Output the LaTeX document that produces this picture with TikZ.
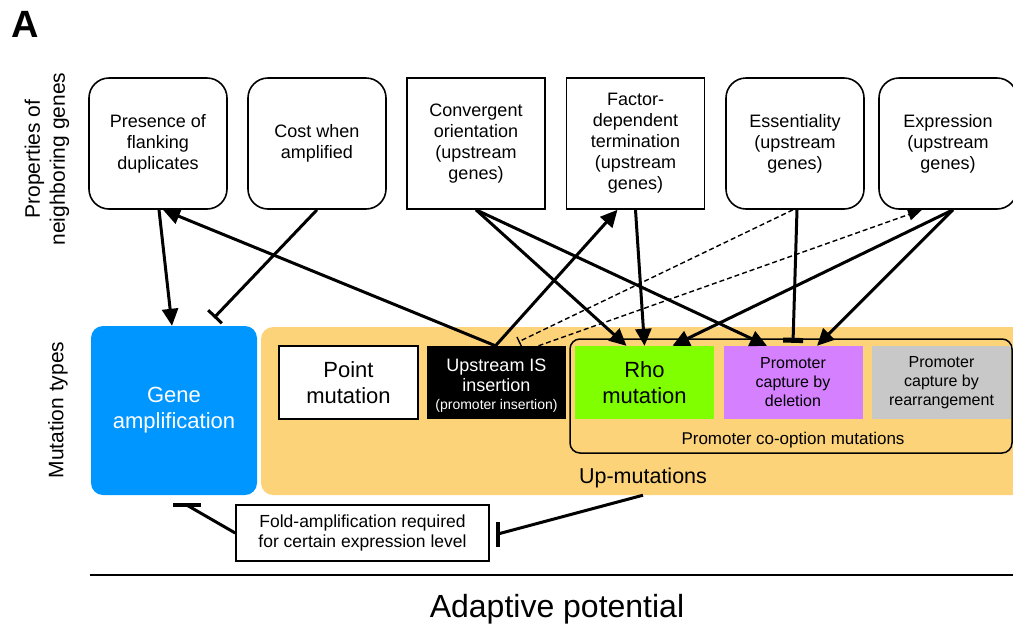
\documentclass[tikz,border=0pt]{standalone}
\usepackage{fontspec}
\setmainfont{Liberation Sans}
\usetikzlibrary{arrows.meta,calc}
\definecolor{ampblue}{RGB}{0,150,255}
\definecolor{upor}{RGB}{253,211,122}
\definecolor{rhogreen}{RGB}{128,255,0}
\definecolor{delviolet}{RGB}{213,128,255}
\definecolor{reargray}{RGB}{200,200,200}
\begin{document}
\begin{tikzpicture}[x=1pt,y=-1pt,
  prop/.style={draw,line width=1.6pt,minimum width=138pt,minimum height=131pt,inner sep=0pt,align=center,font=\fontsize{18}{21}\selectfont},
  rprop/.style={prop,rounded corners=20pt},
  arr/.style={line width=3pt,-{Triangle[length=17pt,width=16pt]}},
  inh/.style={line width=3pt,-{Bar[width=19pt]}},
  dasharr/.style={line width=1.4pt,dash pattern=on 5pt off 3pt,-{Triangle[length=14pt,width=12pt]}},
  dashinh/.style={line width=1.4pt,dash pattern=on 5pt off 3pt,-{Bar[width=10pt]}},
  mutbox/.style={minimum width=139pt,minimum height=73pt,inner sep=0pt,align=center},
  bigtxt/.style={font=\fontsize{22}{26}\selectfont},
  midtxt/.style={font=\fontsize{16}{19}\selectfont},
  axislab/.style={rotate=90,align=center,font=\fontsize{21}{25}\selectfont}]
\useasboundingbox (0,0) rectangle (1013,625);

% panel letter and axis labels
\node[anchor=base,font=\fontsize{38}{38}\selectfont\bfseries] (panel) at (25,37) {A};
\node[axislab] (ylab1) at (47,159) {Properties of\\neighboring genes};
\node[axislab] (ylab2) at (58,410) {Mutation types};

% top row
\node[rprop] (b1) at (158,143.5) {Presence of\\flanking\\duplicates};
\node[rprop] (b2) at (317,143.5) {Cost when\\amplified};
\node[prop] (b3) at (476,143.5) {Convergent\\orientation\\(upstream\\genes)};
\node[prop] (b4) at (635.5,143.5) {Factor-\\dependent\\termination\\(upstream\\genes)};
\node[rprop] (b5) at (795,143.5) {Essentiality\\(upstream\\genes)};
\node[rprop] (b6) at (948,143.5) {Expression\\(upstream\\genes)};

% bottom row
\node[fill=ampblue,rounded corners=12pt,minimum width=166pt,minimum height=169pt,inner sep=0pt,align=center,text=white,bigtxt] (ga) at (174,410.5) {Gene\\amplification};
\node[fill=upor,rounded corners=12pt,minimum width=764pt,minimum height=168pt,inner sep=0pt] (up) at (643,411) {};
\node[anchor=base,font=\fontsize{21.5}{26}\selectfont] (uplab) at (643,483) {Up-mutations};
\node[draw,line width=1.5pt,rounded corners=10pt,minimum width=442pt,minimum height=114pt,inner sep=0pt] (coopt) at (791,396) {};
\node[anchor=base,font=\fontsize{17}{20}\selectfont] (cooptlab) at (793,444) {Promoter co-option mutations};

\node[mutbox,draw,line width=2pt,fill=white,bigtxt] (pm) at (348.5,382.5) {Point\\mutation};
\node[mutbox,fill=black] (is) at (496.5,382.5) {};
\node[anchor=base,text=white,font=\fontsize{18}{20}\selectfont] (is1) at (496.5,371) {Upstream IS};
\node[anchor=base,text=white,font=\fontsize{18}{20}\selectfont] (is2) at (496.5,391) {insertion};
\node[anchor=base,text=white,font=\fontsize{14}{16}\selectfont] (is3) at (496.5,409) {(promoter insertion)};
\node[mutbox,fill=rhogreen,bigtxt] (rho) at (644.5,382.5) {Rho\\mutation};
\node[mutbox,fill=delviolet,midtxt] (del) at (793,382.5) {Promoter\\capture by\\deletion};
\node[mutbox,fill=reargray,midtxt] (rear) at (941.5,382.5) {Promoter\\capture by\\rearrangement};

\node[draw,line width=1.6pt,minimum width=253pt,minimum height=56pt,inner sep=0pt,align=center,font=\fontsize{17.5}{20}\selectfont] (fold) at (362.5,533) {Fold-amplification required\\for certain expression level};

% axis line and label
\coordinate (axl) at (90,575);
\coordinate (axr) at (1013,575);
\draw[line width=2pt] (axl) -- (axr);
\node[anchor=base,font=\fontsize{32}{32}\selectfont] (ap) at (557,617) {Adaptive potential};

% connectors
\draw[arr] ([xshift=1pt]b1.south) -- ([xshift=-2pt]ga.north);
\draw[inh] (b2.south) -- ([xshift=40pt,yshift=8pt]ga.north);
\draw[arr] ([xshift=-1pt]is.north) -- ([xshift=5pt]b1.south);
\draw[arr] ([xshift=-1pt]is.north) -- ([xshift=-18pt]b4.south);
\draw[arr] (b3.south) -- ([xshift=-18pt]rho.north);
\draw[arr] (b3.south) -- ([xshift=-26pt]del.north);
\draw[arr] (b4.south) -- ([xshift=0pt]rho.north);
\draw[line width=3pt,-{Bar[width=20pt,line width=5pt]}] ([xshift=2pt]b5.south) -- ([yshift=3pt]del.north);
\draw[arr] ([xshift=5pt]b6.south) -- ([xshift=28pt]rho.north);
\draw[arr] ([xshift=5pt]b6.south) -- ([xshift=24pt]del.north);
\draw[dashinh] ([xshift=-2pt]b5.south) -- ([xshift=22pt,yshift=4pt]is.north);
\draw[dasharr] ([xshift=42pt]is.north) -- ([xshift=-26pt]b6.south);

% fold-amplification inhibitions
\coordinate (gabar) at ([xshift=13pt,yshift=-10pt]ga.south);
\draw[line width=3pt] (fold.west) -- (gabar);
\draw[line width=4pt] ([xshift=-14pt]gabar) -- ([xshift=14pt]gabar);
\coordinate (foldbar) at ([xshift=8pt,yshift=-1pt]fold.east);
\draw[line width=3pt] (up.south) -- (foldbar);
\draw[line width=3.5pt] ([yshift=12pt]foldbar) -- ([yshift=-13pt]foldbar);
\end{tikzpicture}
\end{document}
